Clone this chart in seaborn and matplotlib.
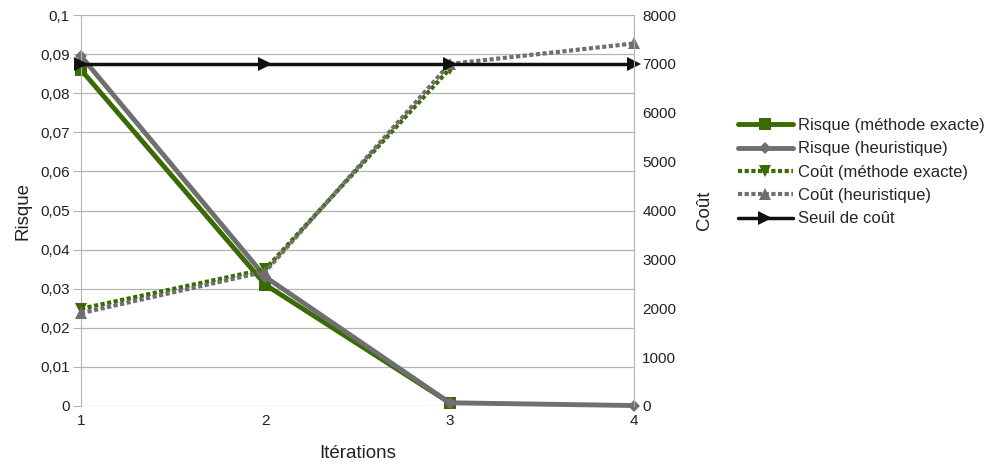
import pandas as pd
import matplotlib
matplotlib.use('Agg')
import matplotlib.pyplot as plt
import seaborn as sns
from matplotlib.ticker import FuncFormatter, MultipleLocator

# Values
iterations = [1, 2, 3, 4]
risque_exacte = [0.086, 0.031, 0.0008, None]
risque_heur = [0.0895, 0.033, 0.0008, 0.0001]
cout_exacte = [1990, 2800, 6900, None]
cout_heur = [1900, 2750, 7000, 7420]
seuil = [7000, 7000, 7000, 7000]

data = pd.DataFrame({
    'iter': iterations,
    'risque_exacte': risque_exacte,
    'risque_heur': risque_heur,
    'cout_exacte': cout_exacte,
    'cout_heur': cout_heur,
    'seuil': seuil,
})

sns.set_style('white')
plt.rcParams['font.family'] = ['Liberation Sans', 'DejaVu Sans']

green = '#3a6b00'
grey = '#6f6f6f'
black = '#111111'
axis_grey = '#b3b3b3'

fig, ax = plt.subplots(figsize=(9.93, 4.72), dpi=100)
fig.subplots_adjust(left=0.0816, right=0.6385, top=0.968, bottom=0.14)
ax2 = ax.twinx()

# Risk series on the left axis
sns.lineplot(data=data, x='iter', y='risque_exacte', ax=ax, color=green,
             linewidth=3.5, marker='s', markersize=8, markeredgewidth=0,
             clip_on=False, label='Risque (méthode exacte)')
sns.lineplot(data=data, x='iter', y='risque_heur', ax=ax, color=grey,
             linewidth=3.5, marker='D', markersize=6, markeredgewidth=0,
             clip_on=False, label='Risque (heuristique)')

# Cost series on the right axis
sns.lineplot(data=data, x='iter', y='cout_exacte', ax=ax2, color=green,
             linewidth=3, linestyle=(0, (1, 0.6)), marker='v', markersize=9,
             markeredgewidth=0, clip_on=False, label='Coût (méthode exacte)')
sns.lineplot(data=data, x='iter', y='cout_heur', ax=ax2, color=grey,
             linewidth=3, linestyle=(0, (1, 0.6)), marker='^', markersize=9,
             markeredgewidth=0, clip_on=False, label='Coût (heuristique)')
sns.lineplot(data=data, x='iter', y='seuil', ax=ax2, color=black,
             linewidth=2.5, marker='>', markersize=10, markeredgewidth=0,
             clip_on=False, label='Seuil de coût')

for a in (ax, ax2):
    if a.get_legend() is not None:
        a.get_legend().remove()

ax.set_xlim(1, 4)
ax.set_ylim(0, 0.1)
ax2.set_ylim(0, 8000)
ax.set_xticks(iterations)
ax.yaxis.set_major_locator(MultipleLocator(0.01))
ax2.yaxis.set_major_locator(MultipleLocator(1000))
ax.yaxis.set_major_formatter(FuncFormatter(
    lambda v, p: '0' if abs(v) < 1e-9 else ('%g' % round(v, 3)).replace('.', ',')))

ax.grid(axis='y', color=axis_grey, linewidth=0.9)
ax.grid(axis='x', visible=False)
ax2.grid(False)

for a in (ax, ax2):
    for s in a.spines.values():
        s.set_visible(False)
ax.spines['left'].set_visible(True)
ax.spines['left'].set_color(axis_grey)
ax2.spines['right'].set_visible(True)
ax2.spines['right'].set_color(axis_grey)

ax.tick_params(axis='y', length=6, color=axis_grey, labelsize=11, pad=2,
               left=True, labelcolor='#222222')
ax.tick_params(axis='x', length=0, labelsize=11, pad=6, labelcolor='#222222')
ax2.tick_params(axis='y', length=0, labelsize=11, pad=6, right=True,
                labelcolor='#222222')

ax.set_xlabel('Itérations', fontsize=13.5, labelpad=12, color='#222222')
ax.set_ylabel('Risque', fontsize=13.5, labelpad=6, color='#222222')
ax2.set_ylabel('Coût', fontsize=13.5, labelpad=14, color='#222222')

handles, labels = [], []
for a in (ax, ax2):
    h, l = a.get_legend_handles_labels()
    handles += h
    labels += l
fig.legend(handles, labels, loc='center left', bbox_to_anchor=(0.736, 0.635),
           frameon=False, fontsize=12, handlelength=3.3, handletextpad=0.35,
           labelspacing=0.5, borderaxespad=0)

fig.savefig('out.png', dpi=100)
